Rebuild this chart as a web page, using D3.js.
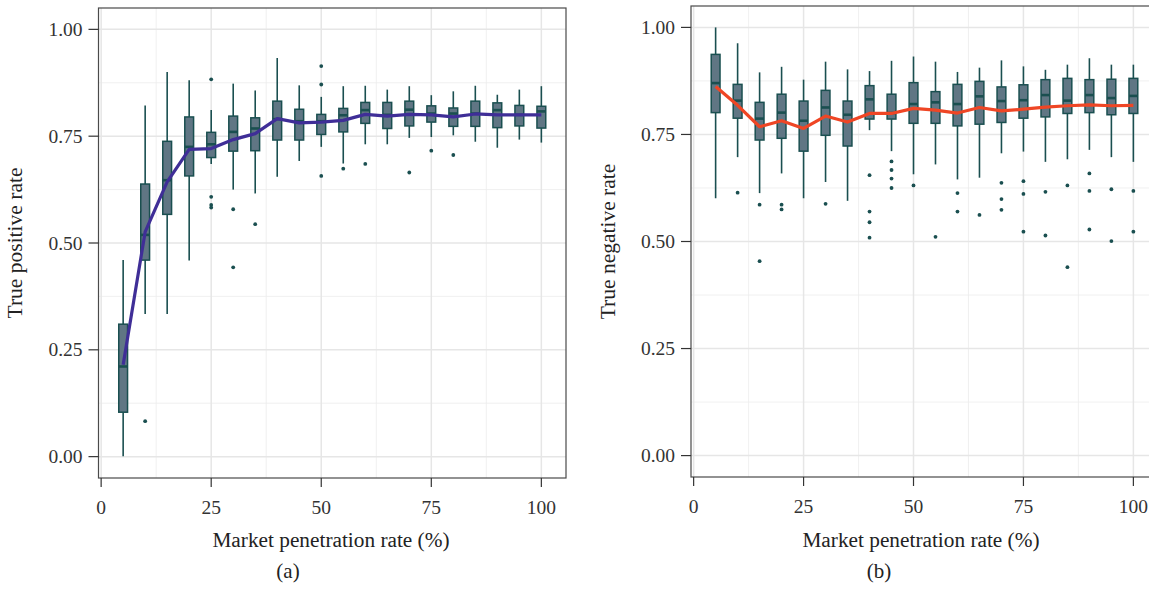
<!DOCTYPE html>
<html>
<head>
<meta charset="utf-8">
<script src="https://cdn.jsdelivr.net/npm/d3@7"></script>
<style>
  body { margin: 0; background: #fff; }
  svg text { font-family: "Liberation Serif", "Times New Roman", serif; }
</style>
</head>
<body>
<svg id="chart" width="1149" height="592"></svg>
<script>
// market penetration rates (%)
const rates = [5, 10, 15, 20, 25, 30, 35, 40, 45, 50, 55, 60, 65, 70, 75, 80, 85, 90, 95, 100];

// (a) true positive rate
const tprLow    = [0.001, 0.334, 0.334, 0.459, 0.685, 0.625, 0.616, 0.655, 0.692, 0.725, 0.686, 0.731, 0.731, 0.746, 0.748, 0.752, 0.737, 0.723, 0.742, 0.735];
const tprQ1     = [0.104, 0.460, 0.567, 0.657, 0.700, 0.715, 0.716, 0.741, 0.741, 0.754, 0.760, 0.780, 0.768, 0.774, 0.783, 0.773, 0.773, 0.770, 0.774, 0.769];
const tprMedian = [0.211, 0.519, 0.647, 0.725, 0.731, 0.760, 0.768, 0.790, 0.785, 0.785, 0.799, 0.811, 0.800, 0.812, 0.803, 0.803, 0.803, 0.811, 0.800, 0.808];
const tprQ3     = [0.310, 0.638, 0.738, 0.795, 0.759, 0.797, 0.793, 0.832, 0.813, 0.801, 0.815, 0.829, 0.829, 0.832, 0.821, 0.816, 0.832, 0.828, 0.822, 0.820];
const tprHigh   = [0.460, 0.822, 0.900, 0.881, 0.811, 0.873, 0.857, 0.933, 0.869, 0.842, 0.867, 0.868, 0.859, 0.867, 0.846, 0.855, 0.868, 0.847, 0.859, 0.867];
const tprMean   = [0.215, 0.526, 0.643, 0.719, 0.721, 0.742, 0.756, 0.791, 0.781, 0.783, 0.787, 0.801, 0.797, 0.801, 0.800, 0.795, 0.802, 0.800, 0.800, 0.800];
const tprOutliers = [[], [0.083], [], [], [0.883, 0.608, 0.589, 0.583], [0.579, 0.443], [0.544], [], [],
  [0.914, 0.871, 0.657], [0.674], [0.685], [], [0.665], [0.716], [0.706], [], [], [], []];

// (b) true negative rate
const tnrLow    = [0.601, 0.697, 0.613, 0.659, 0.601, 0.639, 0.595, 0.760, 0.711, 0.657, 0.680, 0.645, 0.649, 0.706, 0.710, 0.686, 0.692, 0.714, 0.697, 0.686];
const tnrQ1     = [0.801, 0.788, 0.737, 0.741, 0.711, 0.748, 0.723, 0.786, 0.786, 0.776, 0.776, 0.770, 0.774, 0.778, 0.788, 0.791, 0.799, 0.801, 0.796, 0.799];
const tnrMedian = [0.870, 0.829, 0.787, 0.801, 0.782, 0.813, 0.796, 0.832, 0.800, 0.821, 0.825, 0.821, 0.839, 0.828, 0.830, 0.842, 0.829, 0.842, 0.835, 0.840];
const tnrQ3     = [0.937, 0.867, 0.825, 0.844, 0.828, 0.853, 0.828, 0.864, 0.844, 0.871, 0.850, 0.867, 0.874, 0.861, 0.866, 0.878, 0.881, 0.878, 0.879, 0.881];
const tnrHigh   = [1.000, 0.963, 0.895, 0.908, 0.878, 0.920, 0.902, 0.898, 0.922, 0.932, 0.920, 0.896, 0.906, 0.923, 0.909, 0.901, 0.913, 0.928, 0.913, 0.913];
const tnrMean   = [0.862, 0.818, 0.768, 0.782, 0.764, 0.793, 0.779, 0.799, 0.799, 0.811, 0.807, 0.800, 0.813, 0.805, 0.809, 0.814, 0.817, 0.819, 0.817, 0.818];
const tnrOutliers = [[], [0.614], [0.586, 0.454], [0.586, 0.575], [], [0.588], [], [0.655, 0.570, 0.545, 0.509],
  [0.687, 0.667, 0.647, 0.625], [0.631], [0.511], [0.613, 0.570], [0.562], [0.637, 0.599, 0.574],
  [0.641, 0.611, 0.523], [0.616, 0.514], [0.631, 0.440], [0.659, 0.618, 0.528], [0.622, 0.501], [0.618, 0.523]];

const xTicks = [0, 25, 50, 75, 100];
const xMinor = [12.5, 37.5, 62.5, 87.5];
const yTicks = [0, 0.25, 0.5, 0.75, 1];
const yMinor = [0.125, 0.375, 0.625, 0.875];

const svg = d3.select('#chart');
const boxFill = '#607684';
const boxStroke = '#1a4f50';

function drawPanel(cfg) {
    const { x0, x1, y0, y1 } = cfg;
    const g = svg.append('g');

    const x = d3.scaleLinear().domain([-0.6, 105.6]).range([x0, x1]);
    const y = d3.scaleLinear().domain([-0.05, 1.05]).range([y1, y0]);

    // grid lines
    g.selectAll('.vminor').data(xMinor).enter().append('line')
        .attr('x1', d => x(d)).attr('x2', d => x(d)).attr('y1', y0).attr('y2', y1)
        .style('stroke', '#ececec').style('stroke-width', 0.8);
    g.selectAll('.hminor').data(yMinor).enter().append('line')
        .attr('x1', x0).attr('x2', x1).attr('y1', d => y(d)).attr('y2', d => y(d))
        .style('stroke', '#ececec').style('stroke-width', 0.8);
    g.selectAll('.vmajor').data(xTicks).enter().append('line')
        .attr('x1', d => x(d)).attr('x2', d => x(d)).attr('y1', y0).attr('y2', y1)
        .style('stroke', '#e6e6e6').style('stroke-width', 1.5);
    g.selectAll('.hmajor').data(yTicks).enter().append('line')
        .attr('x1', x0).attr('x2', x1).attr('y1', d => y(d)).attr('y2', d => y(d))
        .style('stroke', '#e6e6e6').style('stroke-width', 1.5);

    // boxplots
    const rows = rates.map((r, i) => ({
        r, low: cfg.low[i], q1: cfg.q1[i], med: cfg.med[i], q3: cfg.q3[i],
        high: cfg.high[i], out: cfg.out[i]
    }));
    const box = g.selectAll('.box').data(rows).enter().append('g');
    box.append('line')
        .attr('x1', d => x(d.r)).attr('x2', d => x(d.r))
        .attr('y1', d => y(d.high)).attr('y2', d => y(d.q3))
        .style('stroke', boxStroke).style('stroke-width', 1.6);
    box.append('line')
        .attr('x1', d => x(d.r)).attr('x2', d => x(d.r))
        .attr('y1', d => y(d.q1)).attr('y2', d => y(d.low))
        .style('stroke', boxStroke).style('stroke-width', 1.6);
    box.append('rect')
        .attr('x', d => x(d.r - 1))
        .attr('width', d => x(d.r + 1) - x(d.r - 1))
        .attr('y', d => y(d.q3))
        .attr('height', d => y(d.q1) - y(d.q3))
        .style('fill', boxFill).style('stroke', boxStroke).style('stroke-width', 1.5);
    box.append('line')
        .attr('x1', d => x(d.r - 1)).attr('x2', d => x(d.r + 1))
        .attr('y1', d => y(d.med)).attr('y2', d => y(d.med))
        .style('stroke', boxStroke).style('stroke-width', 2.6);
    box.selectAll('circle').data(d => d.out.map(v => ({ r: d.r, v }))).enter().append('circle')
        .attr('cx', d => x(d.r)).attr('cy', d => y(d.v)).attr('r', 1.9)
        .style('fill', boxStroke);

    // mean line
    const line = d3.line().x((d, i) => x(rates[i])).y(d => y(d));
    g.append('path').datum(cfg.mean)
        .attr('d', line)
        .style('fill', 'none').style('stroke', cfg.lineColor)
        .style('stroke-width', 3.2).style('stroke-linejoin', 'round');

    // panel border
    g.append('rect')
        .attr('x', x0).attr('y', y0).attr('width', x1 - x0).attr('height', y1 - y0)
        .style('fill', 'none').style('stroke', '#4a4a4a').style('stroke-width', 1.2);

    // axes ticks and labels
    g.selectAll('.xt').data(xTicks).enter().append('line')
        .attr('x1', d => x(d)).attr('x2', d => x(d)).attr('y1', y1).attr('y2', y1 + 9)
        .style('stroke', '#333').style('stroke-width', 1.2);
    g.selectAll('.xl').data(xTicks).enter().append('text')
        .attr('x', d => x(d)).attr('y', y1 + 36)
        .attr('text-anchor', 'middle')
        .style('font-size', '19.5px').style('fill', '#333')
        .text(d => d);
    g.selectAll('.yt').data(yTicks).enter().append('line')
        .attr('x1', x0 - 10).attr('x2', x0).attr('y1', d => y(d)).attr('y2', d => y(d))
        .style('stroke', '#333').style('stroke-width', 1.2);
    g.selectAll('.yl').data(yTicks).enter().append('text')
        .attr('x', x0 - 16).attr('y', d => y(d) + 6.5)
        .attr('text-anchor', 'end')
        .style('font-size', '19.5px').style('fill', '#333')
        .text(d => d3.format('.2f')(d));

    // titles
    g.append('text')
        .attr('x', cfg.titleX).attr('y', 547)
        .attr('text-anchor', 'middle')
        .style('font-size', '21.3px').style('fill', '#222')
        .text('Market penetration rate (%)');
    g.append('text')
        .attr('transform', `translate(${x0 - 76.5},${(y0 + y1) / 2}) rotate(-90)`)
        .attr('text-anchor', 'middle')
        .style('font-size', '21.5px').style('fill', '#222')
        .text(cfg.yTitle);
    g.append('text')
        .attr('x', cfg.tagX).attr('y', 578)
        .attr('text-anchor', 'middle')
        .style('font-size', '21px').style('fill', '#222')
        .text(cfg.tag);
}

drawPanel({
    x0: 98.5, x1: 566, y0: 8, y1: 478,
    low: tprLow, q1: tprQ1, med: tprMedian, q3: tprQ3, high: tprHigh, out: tprOutliers,
    mean: tprMean, lineColor: '#3f2e97',
    yTitle: 'True positive rate', tag: '(a)', tagX: 288, titleX: 331
});
drawPanel({
    x0: 691, x1: 1158, y0: 6, y1: 477,
    low: tnrLow, q1: tnrQ1, med: tnrMedian, q3: tnrQ3, high: tnrHigh, out: tnrOutliers,
    mean: tnrMean, lineColor: '#ef4625',
    yTitle: 'True negative rate', tag: '(b)', tagX: 879, titleX: 921
});
</script>
</body>
</html>
